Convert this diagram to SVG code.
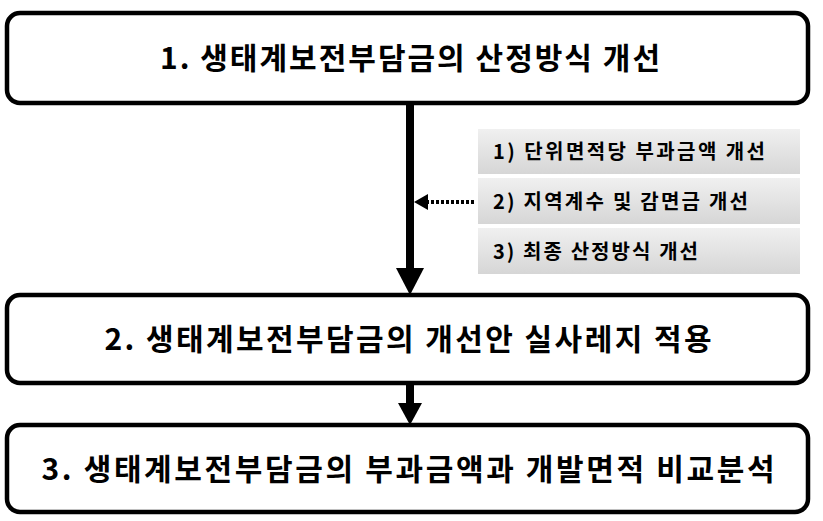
<svg xmlns="http://www.w3.org/2000/svg" width="823" height="521" viewBox="0 0 823 521">
<style>
.box{fill:#fff;stroke:#000;stroke-width:4.5}
.t{font-family:"Noto Sans CJK KR","Noto Sans",sans-serif;font-weight:bold;fill:#000;text-anchor:middle}
.big{font-size:30px}
.sm{font-size:20px;text-anchor:start}
.g{fill:url(#gr)}
</style>
<defs>
<linearGradient id="gr" x1="0" y1="0" x2="0" y2="1"><stop offset="0" stop-color="#f0f0f0"/><stop offset="1" stop-color="#d6d6d6"/></linearGradient>
</defs>
<g id="n1"><rect class="box" x="7" y="13" width="801" height="90" rx="13"/><text class="t big" x="410" y="69" textLength="500" lengthAdjust="spacing">1. 생태계보전부담금의 산정방식 개선</text></g>
<g id="s1"><rect class="g" x="478" y="129" width="322" height="45"/><text class="t sm" x="493" y="159" textLength="272" lengthAdjust="spacing">1) 단위면적당 부과금액 개선</text></g>
<g id="s2"><rect class="g" x="478" y="178" width="322" height="46"/><text class="t sm" x="493" y="209" textLength="255" lengthAdjust="spacing">2) 지역계수 및 감면금 개선</text></g>
<g id="s3"><rect class="g" x="478" y="228" width="322" height="46"/><text class="t sm" x="493" y="259" textLength="205" lengthAdjust="spacing">3) 최종 산정방식 개선</text></g>
<g id="n2"><rect class="box" x="7" y="295" width="801" height="88" rx="13"/><text class="t big" x="408" y="350" textLength="607" lengthAdjust="spacing">2. 생태계보전부담금의 개선안 실사레지 적용</text></g>
<g id="n3"><rect class="box" x="7" y="425" width="801" height="87" rx="13"/><text class="t big" x="408" y="480" textLength="733" lengthAdjust="spacing">3. 생태계보전부담금의 부과금액과 개발면적 비교분석</text></g>
<g id="edges">
<line x1="410" y1="103" x2="410" y2="270" stroke="#000" stroke-width="8"/>
<path d="M396,268L424,268L410,295z"/>
<line x1="410" y1="383" x2="410" y2="405" stroke="#000" stroke-width="8"/>
<path d="M398,403L422,403L410,425z"/>
<line x1="474" y1="202" x2="428" y2="202" stroke="#000" stroke-width="4" stroke-dasharray="3,2"/>
<path d="M428,194L428,210L414,202z"/>
</g>
</svg>
